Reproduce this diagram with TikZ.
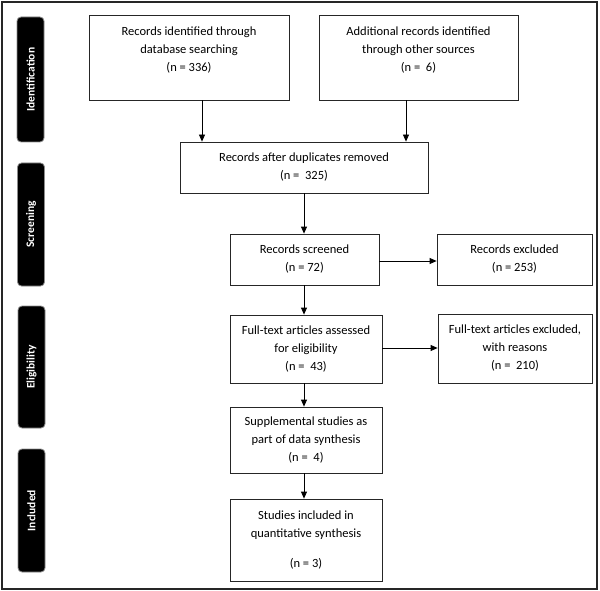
\documentclass[tikz,border=0pt]{standalone}
\usepackage{fontspec}
\setmainfont{Carlito}
\usetikzlibrary{arrows.meta}
\begin{document}
\begin{tikzpicture}[x=1pt,y=-1pt,
  box/.style={draw=black!85,line width=0.8pt,rectangle,inner sep=0pt},
  txt/.style={align=center,font=\fontsize{12.5}{18}\selectfont,inner sep=0pt},
  phase/.style={draw=black!45,line width=0.8pt,fill=black,rounded corners=4pt,inner sep=0pt,
     minimum width=27pt},
  ptxt/.style={rotate=90,text=white,font=\fontsize{11.5}{14}\selectfont\bfseries,inner sep=0pt},
  arr/.style={line width=0.8pt,-{Triangle[length=7pt,width=6pt]}}]
\useasboundingbox (0,0) rectangle (600,591);
\node[draw=black!85,line width=1.4pt,minimum width=595pt,minimum height=587pt,inner sep=0pt] (frame) at (299.5,295.5) {};
% phase labels
\node[phase,minimum height=125pt] (pid) at (30.5,79.5) {};
\node[ptxt] (pidt) at (pid.center) {Identification};
\node[phase,minimum height=123pt] (psc) at (31,224.5) {};
\node[ptxt] (psct) at (psc.center) {Screening};
\node[phase,minimum height=122pt] (pel) at (31.5,367) {};
\node[ptxt] (pelt) at (pel.center) {Eligibility};
\node[phase,minimum height=123pt] (pin) at (31.5,510.5) {};
\node[ptxt] (pint) at (pin.center) {Included};
% boxes
\node[box,minimum width=200pt,minimum height=85pt] (db) at (189,57.5) {};
\node[txt] (dbt) at (189,50.5) {Records identified through\\database searching\\(n = 336)};
\node[box,minimum width=199pt,minimum height=85pt] (add) at (418.5,57.5) {};
\node[txt] (addt) at (418.5,50.5) {Additional records identified\\through other sources\\(n =\ \ 6)};
\node[box,txt,minimum width=248pt,minimum height=51pt] (dup) at (304,167.5) {Records after duplicates removed\\(n =\ \ 325)};
\node[box,txt,minimum width=149pt,minimum height=51pt] (scr) at (304.5,259.5) {Records screened\\(n = 72)};
\node[box,txt,minimum width=155pt,minimum height=51pt] (exc) at (514.5,259.5) {Records excluded\\(n = 253)};
\node[box,txt,minimum width=152pt,minimum height=68pt] (ft) at (306,349) {Full-text articles assessed\\for eligibility\\(n =\ \ 43)};
\node[box,txt,minimum width=154pt,minimum height=69pt] (fte) at (515,348.5) {Full-text articles excluded,\\with reasons\\(n =\ \ 210)};
\node[box,txt,minimum width=152pt,minimum height=66pt] (sup) at (306,440) {Supplemental studies as\\part of data synthesis\\(n =\ \ 4)};
\node[box,txt,minimum width=152pt,minimum height=82pt] (inc) at (306,540) {Studies included in\\quantitative synthesis\\[12pt](n = 3)};
% arrows
\draw[arr] ([xshift=13pt]db.south) -- ([xshift=13pt]db.south |- dup.north);
\draw[arr] ([xshift=-12.5pt]add.south) -- ([xshift=-12.5pt]add.south |- dup.north);
\draw[arr] (dup.south) -- (dup.south |- scr.north);
\draw[arr] ([yshift=-1.5pt]scr.east) -- ([yshift=-1.5pt]scr.east -| exc.west);
\draw[arr] ([xshift=-0.5pt]scr.south) -- ([xshift=-0.5pt]scr.south |- ft.north);
\draw[arr] ([yshift=1pt]ft.east) -- ([yshift=1pt]ft.east -| fte.west);
\draw[arr] ([xshift=-2pt]ft.south) -- ([xshift=-2pt]ft.south |- sup.north);
\draw[arr] ([xshift=-2pt]sup.south) -- ([xshift=-2pt]sup.south |- inc.north);
\end{tikzpicture}
\end{document}
